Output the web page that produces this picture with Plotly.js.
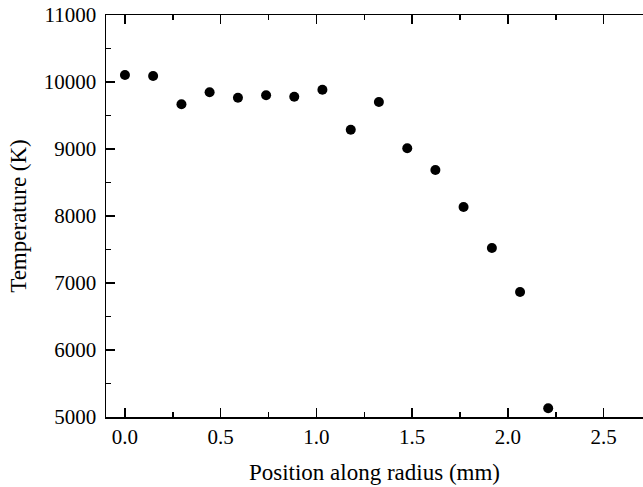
<!DOCTYPE html>
<html>
<head>
<meta charset="utf-8">
<script src="https://cdn.plot.ly/plotly-3.0.1.min.js"></script>
<style>html,body{margin:0;padding:0;background:#fff;}#chart{width:643px;height:487px;}</style>
</head>
<body>
<div id="chart"></div>
<script>
// Position along radius (mm)
const positionMm = [0.000, 0.147, 0.295, 0.442, 0.590, 0.737, 0.884, 1.031, 1.179, 1.326, 1.474, 1.621, 1.768, 1.916, 2.063, 2.210];
// Temperature (K)
const temperatureK = [10104, 10090, 9667, 9846, 9766, 9801, 9781, 9885, 9288, 9701, 9010, 8687, 8134, 7522, 6866, 5130];

const xTickVals = [0, 0.5, 1.0, 1.5, 2.0, 2.5];
const xTickText = ['0.0', '0.5', '1.0', '1.5', '2.0', '2.5'];
const yTickVals = [5000, 6000, 7000, 8000, 9000, 10000, 11000];
const yTickText = ['5000', '6000', '7000', '8000', '9000', '10000', '11000'];

const fontFamily = 'Liberation Serif, Times New Roman, serif';

const trace = {
  x: positionMm,
  y: temperatureK,
  type: 'scatter',
  mode: 'markers',
  marker: {color: '#000', size: 10, symbol: 'circle'},
  cliponaxis: false,
  showlegend: false
};

const layout = {
  width: 643,
  height: 487,
  margin: {l: 106, r: 0, t: 15, b: 70},
  paper_bgcolor: '#fff',
  plot_bgcolor: '#fff',
  font: {family: fontFamily, size: 21, color: '#000'},
  xaxis: {
    range: [-0.099, 2.705],
    tickvals: xTickVals,
    ticktext: xTickText,
    ticks: 'inside',
    ticklen: 9,
    tickwidth: 1.5,
    tickcolor: '#000',
    showline: true,
    linecolor: '#000',
    linewidth: 1.5,
    mirror: 'ticks',
    showgrid: false,
    zeroline: false,
    minor: {dtick: 0.25, tick0: 0, ticks: 'inside', ticklen: 5, tickwidth: 1.5, tickcolor: '#000', showgrid: false},
    tickfont: {family: fontFamily, size: 21, color: '#000'},
    title: {text: 'Position along radius (mm)', font: {family: fontFamily, size: 23, color: '#000'}, standoff: 16}
  },
  yaxis: {
    range: [5000, 11000],
    tickvals: yTickVals,
    ticktext: yTickText,
    ticks: 'inside',
    ticklen: 9,
    tickwidth: 1.5,
    tickcolor: '#000',
    showline: true,
    linecolor: '#000',
    linewidth: 1.5,
    mirror: false,
    showgrid: false,
    zeroline: false,
    ticklabelstandoff: 4,
    minor: {dtick: 500, tick0: 5000, ticks: 'inside', ticklen: 5, tickwidth: 1.5, tickcolor: '#000', showgrid: false},
    tickfont: {family: fontFamily, size: 21, color: '#000'},
    title: {text: 'Temperature (K)', font: {family: fontFamily, size: 23, color: '#000'}, standoff: 10}
  }
};

Plotly.newPlot('chart', [trace], layout, {displayModeBar: false, staticPlot: true});
</script>
</body>
</html>
